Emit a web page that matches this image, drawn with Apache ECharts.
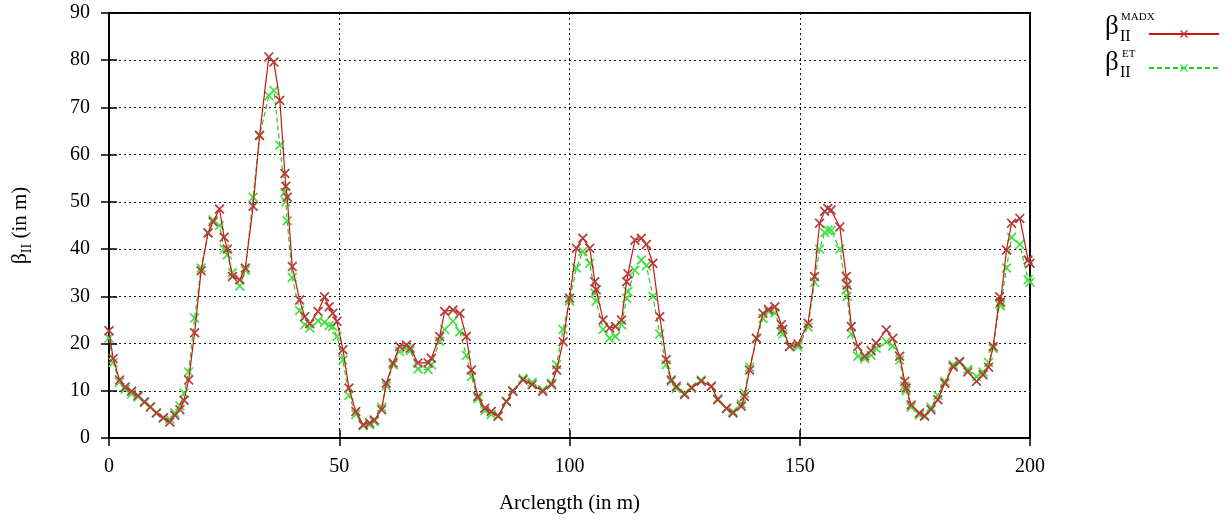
<!DOCTYPE html>
<html>
<head>
<meta charset="utf-8">
<script src="https://cdn.jsdelivr.net/npm/echarts@6/dist/echarts.min.js"></script>
<style>
html,body{margin:0;padding:0;background:#fff;}
#chart{width:1226px;height:521px;}
</style>
</head>
<body>
<div id="chart"></div>
<script>
// Arclength positions (m)
const sPos = [0,0.9,2.3,3.5,4.9,6.3,7.7,9,10.3,11.8,13.2,14.3,15.4,16.3,17.3,18.6,20,21.5,22.6,24,25,25.7,26.8,28.4,29.6,31.3,32.7,34.7,35.8,37.1,38.2,38.4,38.7,39.8,41.4,42.5,43.6,45.4,46.8,47.8,48.6,49.5,50.8,52.1,53.6,55.2,56.6,57.6,59.2,60.2,61.7,63.1,64.6,65.4,67.1,69.3,70,71.8,72.9,74.7,76.2,77.6,78.7,80.1,81.6,83,84.5,86.3,87.7,89.9,91.9,94.2,96.1,97.2,98.6,100,101.5,102.9,104.4,105.5,105.8,107.3,108.7,110,111.3,112.4,112.7,114.2,115.6,116.7,118.1,119.6,121,122.1,123.2,125,126.5,128.6,130.8,132.2,134.1,135.5,137.3,138,139.1,140.6,142,143.2,144.6,146,146.3,147.8,149.6,151.8,153.2,154.3,155.4,156.1,156.8,158.7,160.1,160.3,161.2,162.6,164.1,165.5,166.6,168.8,170.2,171.7,172.8,173.1,174.2,176,177.1,178.5,180,181.5,183.3,184.7,186.5,188.4,189.8,191,192,193.4,193.6,194.9,196,197.8,199.6,200];
// beta_II from MADX
const betaMADX = [22.7,16.8,12.3,10.8,9.9,9,7.7,6.6,5.3,4.3,3.4,4.8,6,8,12.3,22.3,35.4,43.4,45.8,48.5,42.5,40,34.2,33.5,36,49.1,64.1,80.7,79.6,71.5,56,53.3,51,36.3,29.2,25.7,24.2,26.8,29.9,27.8,26.4,24.7,18.7,10.6,5.6,2.8,3.2,3.8,6,11.6,15.9,19.4,19.7,19,15.9,15.9,16.9,21.5,26.8,27.1,26.4,21.5,14.4,8.8,6.3,5.6,4.6,7.7,9.9,12.3,11.3,9.9,11.3,14.4,20.4,29.6,40.2,42.3,40.2,33.1,31.4,25,23.3,23.6,25,33.1,34.8,41.9,42.3,41,37,25.7,16.6,12.3,10.9,9.2,10.6,12,10.9,8.1,6.3,5.3,6.7,8.8,14.4,21.1,26.4,27.2,27.8,24,23,19.4,19.9,24.3,34.2,45.5,48,48.6,48.3,44.7,34.2,32.4,23.6,19.4,17.3,18.5,20.1,22.9,21.1,17.3,12,10.6,7,5.3,4.6,6,8.1,11.6,15.1,16.2,14,12,13.4,15,19.4,29.9,28.8,39.8,45.5,46.5,37.7,37];
// beta_II from ET
const betaET = [21.2,16,11.8,10.3,9.3,8.7,7.5,6.5,5.3,4.2,4,5.3,6.8,9.5,14,25.4,36,43.5,46.2,45,40,38.8,35,32.2,35.5,51,64,72.5,73.6,62,52,50,46,34,27,24,23.3,24.8,24.5,23.8,23.6,21.5,16.5,9,5,2.6,2.8,3.5,6.5,11,15.5,18.3,19,18.5,14.6,14.5,15.5,20.5,23,24.7,22.5,17.5,13,8.3,5.8,5,4.8,7.8,10,12.6,11.8,10.2,11.6,15.5,23,29,36,39.5,37,30.7,29,23,21.1,21.5,24,29.6,31,35.5,37.7,36.5,30,22,15.5,12,10.5,9.5,10.8,12.3,11,8.3,6.2,5.6,7.2,9.5,15,21,25.3,26.8,26.5,22.6,22,19.4,19.3,23.5,33,40,43.5,44,44,40,31.4,30,22,17.3,16.8,17.5,19,20.4,19.5,16.5,11,10,6.5,4.9,4.8,6.5,9,12,15.5,16,14.5,13,14,16,19,28.5,28,36,42.5,41,33.5,33];

const xTicks = {min: 0, max: 200, step: 50};
const yTicks = {min: 0, max: 90, step: 10};

const FONT = 'Liberation Serif';
const X_SYM = 'path://M0,1.2L1.2,0L5,3.8L8.8,0L10,1.2L6.2,5L10,8.8L8.8,10L5,6.2L1.2,10L0,8.8L3.8,5Z';

const chart = echarts.init(document.getElementById('chart'));
const gridSplit = {show: true, lineStyle: {color: '#111', type: [2, 3], width: 1}};
const option = {
  backgroundColor: '#fff',
  animation: false,
  grid: {left: 109, right: 196, top: 13, bottom: 83, show: true, borderColor: '#000', borderWidth: 2, backgroundColor: 'transparent'},
  xAxis: [{
    type: 'value', min: xTicks.min, max: xTicks.max, interval: xTicks.step,
    axisLine: {show: true, lineStyle: {color: '#000', width: 2}},
    axisTick: {show: true, inside: true, length: 8, lineStyle: {color: '#000', width: 1.5}},
    axisLabel: {fontFamily: FONT, fontSize: 20, color: '#000', margin: 19},
    splitLine: gridSplit,
    name: 'Arclength (in m)', nameLocation: 'middle', nameGap: 55,
    nameTextStyle: {fontFamily: FONT, fontSize: 21, color: '#000'}
  }, {
    type: 'value', position: 'top', min: xTicks.min, max: xTicks.max, interval: xTicks.step,
    axisLine: {show: true, lineStyle: {color: '#000', width: 2}},
    axisTick: {show: true, inside: true, length: 8, lineStyle: {color: '#000', width: 1.5}},
    axisLabel: {show: false}, splitLine: {show: false}
  }],
  yAxis: [{
    type: 'value', min: yTicks.min, max: yTicks.max, interval: yTicks.step,
    axisLine: {show: true, lineStyle: {color: '#000', width: 2}},
    axisTick: {show: true, inside: true, length: 8, lineStyle: {color: '#000', width: 1.5}},
    axisLabel: {fontFamily: FONT, fontSize: 20, color: '#000', margin: 19},
    splitLine: gridSplit,
    name: '{b|β}{s|II}{n| (in m)}', nameLocation: 'middle', nameGap: 75, nameRotate: 90,
    nameTextStyle: {
      fontFamily: FONT, fontSize: 21, color: '#000',
      rich: {
        b: {fontFamily: FONT, fontSize: 22, lineHeight: 28, color: '#000'},
        s: {fontFamily: FONT, fontSize: 14, lineHeight: 14, verticalAlign: 'bottom', color: '#000'},
        n: {fontFamily: FONT, fontSize: 21, lineHeight: 28, color: '#000'}
      }
    }
  }, {
    type: 'value', position: 'right', min: yTicks.min, max: yTicks.max, interval: yTicks.step,
    axisLine: {show: true, lineStyle: {color: '#000', width: 2}},
    axisTick: {show: true, inside: true, length: 8, lineStyle: {color: '#000', width: 1.5}},
    axisLabel: {show: false}, splitLine: {show: false}
  }],
  legend: {
    orient: 'vertical', left: 1143, top: 24, itemWidth: 70, itemHeight: 10, itemGap: 24,
    formatter: () => ' ', textStyle: {fontSize: 10},
    data: ['MADX', 'ET']
  },
  graphic: [
    {type: 'text', left: 1105, top: 13, style: {text: 'β', font: '27px "Liberation Serif"', fill: '#000'}},
    {type: 'text', left: 1121, top: 12, style: {text: 'MADX', font: '11px "Liberation Serif"', fill: '#000'}},
    {type: 'text', left: 1120, top: 29, style: {text: 'II', font: '16px "Liberation Serif"', fill: '#000'}},
    {type: 'text', left: 1105, top: 49, style: {text: 'β', font: '27px "Liberation Serif"', fill: '#000'}},
    {type: 'text', left: 1122, top: 49, style: {text: 'ET', font: '11px "Liberation Serif"', fill: '#000'}},
    {type: 'text', left: 1120, top: 65, style: {text: 'II', font: '16px "Liberation Serif"', fill: '#000'}}
  ],
  series: [{
    name: 'MADX', type: 'line', xAxisIndex: 0, yAxisIndex: 0,
    data: sPos.map((s, i) => [s, betaMADX[i]]),
    symbol: X_SYM, symbolSize: 10, showAllSymbol: true,
    lineStyle: {color: '#cc1414', width: 1.2},
    itemStyle: {color: '#b53a3a'},
    z: 3
  }, {
    name: 'ET', type: 'line', xAxisIndex: 0, yAxisIndex: 0,
    data: sPos.map((s, i) => [s, betaET[i]]),
    symbol: X_SYM, symbolSize: 10, showAllSymbol: true,
    lineStyle: {color: '#22cc22', width: 1.2, type: [5, 3]},
    itemStyle: {color: '#44e044'},
    z: 2
  }]
};
chart.setOption(option);
</script>
</body>
</html>
